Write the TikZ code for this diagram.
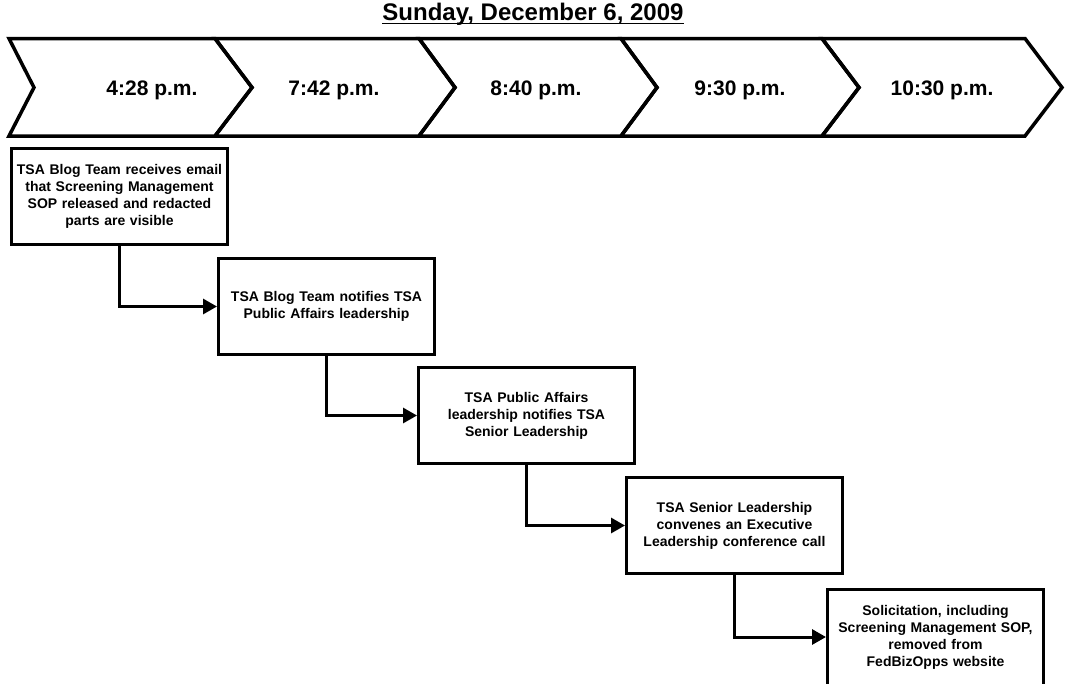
\documentclass[tikz,border=0pt]{standalone}
\usepackage{fontspec}
\setmainfont{Liberation Sans}
\usetikzlibrary{calc,arrows.meta,positioning}

\begin{document}
\begin{tikzpicture}[x=1pt, y=-1pt,
    chev/.style={draw, line width=3.5pt, line join=miter},
    time/.style={anchor=base, inner sep=0pt, font=\bfseries\fontsize{21}{25}\selectfont},
    event/.style={draw, line width=3pt, minimum width=216pt, minimum height=96pt,
      inner sep=0pt, text width=212pt, align=center,
      font=\bfseries\fontsize{14}{17}\selectfont},
    elbow/.style={to path={(\tikztostart.south) |- (\tikztotarget.west)}}]
   \useasboundingbox (0,0) rectangle (1065,683);

   % date
   \node[anchor=base, inner sep=0pt, font=\bfseries\fontsize{24}{28}\selectfont] (date) at (533,20.5) {Sunday, December 6, 2009};
   \draw[line width=1.6pt] ($(date.base west)+(0,3)$) -- ($(date.base east)+(0,3)$);

   % time line
   \draw[chev] (9,38.5) -- (215,38.5) -- (252,87.5) -- (215,136) -- (9,136) -- (34,87.5) -- cycle;
   \draw[chev] (215,38.5) -- (419,38.5) -- (455,87.5) -- (419,136) -- (215,136) -- (252,87.5) -- cycle;
   \draw[chev] (419,38.5) -- (621,38.5) -- (657,87.5) -- (621,136) -- (419,136) -- (455,87.5) -- cycle;
   \draw[chev] (621,38.5) -- (822,38.5) -- (859,87.5) -- (822,136) -- (621,136) -- (657,87.5) -- cycle;
   \draw[chev] (822,38.5) -- (1025,38.5) -- (1062,87.5) -- (1025,136) -- (822,136) -- (859,87.5) -- cycle;

   \node[time] (t1) at (152,95.5) {4:28 p.m.};
   \node[time] (t2) at (334,95.5) {7:42 p.m.};
   \node[time] (t3) at (536,95.5) {8:40 p.m.};
   \node[time] (t4) at (740,95.5) {9:30 p.m.};
   \node[time] (t5) at (942,95.5) {10:30 p.m.};

   % events
   \node[event] (e1) at (119.5,196.5) {TSA Blog Team receives email\\ that Screening Management\\ SOP released and redacted\\ parts are visible};
   \node[event] (e2) at (326.5,306.5) {TSA Blog Team notifies TSA\\ Public Affairs leadership};
   \node[event] (e3) at (526.5,415.5) {TSA Public Affairs\\ leadership notifies TSA\\ Senior Leadership};
   \node[event] (e4) at (734.5,525.5) {TSA Senior Leadership\\ convenes an Executive\\ Leadership conference call};
   \node[event] (e5) at (935.5,637) {Solicitation, including\\ Screening Management SOP,\\ removed from\\ FedBizOpps website};

  \path[line width=3pt, -{Triangle[length=14pt,width=15pt]}]
    (e1) edge [elbow] (e2)
    (e2) edge [elbow] (e3)
    (e3) edge [elbow] (e4)
    (e4) edge [elbow] (e5);
  \end{tikzpicture}
\end{document}
